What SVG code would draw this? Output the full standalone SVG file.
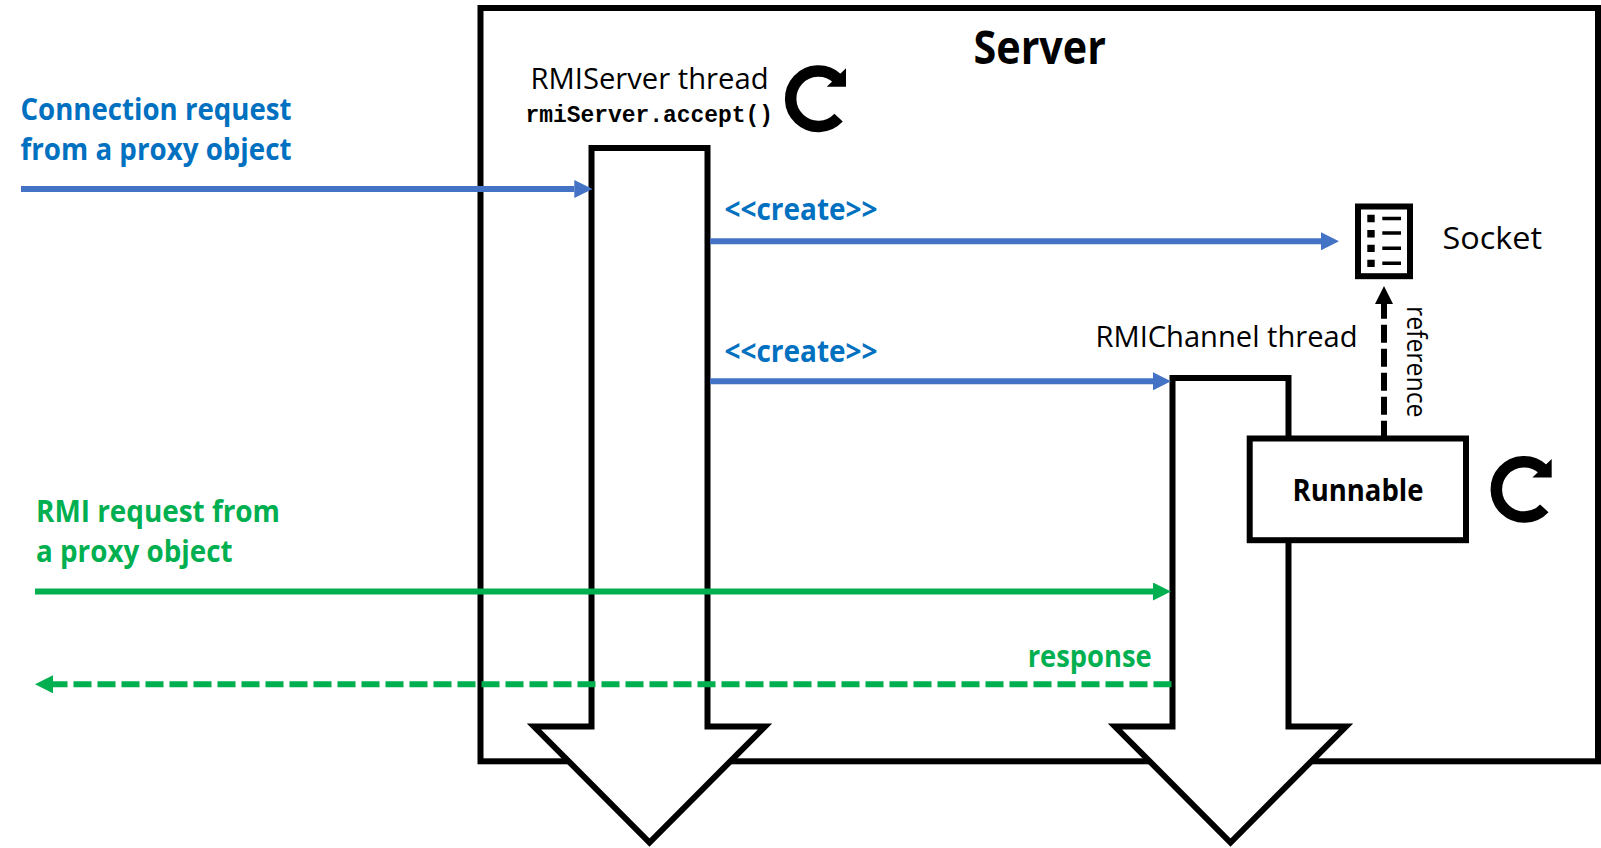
<svg xmlns="http://www.w3.org/2000/svg" xmlns:xlink="http://www.w3.org/1999/xlink" width="1601" height="848" viewBox="0 0 1601 848">
<style>
text{font-family:"Open Sans","Noto Sans","Liberation Sans",sans-serif;font-size:29px;fill:#000;}
.b{font-weight:700;font-size:29.5px;}
.blue{fill:#0070C0;font-weight:700;font-size:29.5px;}
.green{fill:#00B050;font-weight:700;font-size:29.5px;}
.mono{font-family:"Liberation Mono",monospace;font-weight:700;font-size:24px;}
.box{fill:#fff;stroke:#000;stroke-width:6;stroke-miterlimit:10;}
.c{fill:none;stroke-width:6;}
.cb{stroke:#4472C4;}
.cg{stroke:#00B050;}
.ck{stroke:#000;}
.d{stroke-dasharray:18 6;}
</style>
<defs>
<marker id="hb" viewBox="0 0 3 3" markerWidth="3" markerHeight="3" refX="0" refY="1.5" orient="auto"><path d="M0 0L3 1.5L0 3z" fill="#4472C4"/></marker>
<marker id="hg" viewBox="0 0 3 3" markerWidth="3" markerHeight="3" refX="0" refY="1.5" orient="auto"><path d="M0 0L3 1.5L0 3z" fill="#00B050"/></marker>
<marker id="hk" viewBox="0 0 3 3" markerWidth="3" markerHeight="3" refX="0" refY="1.5" orient="auto"><path d="M0 0L3 1.5L0 3z" fill="#000"/></marker>
<g id="loop">
<path d="M838.6 117.6A27.7 27.7 0 1 1 837.2 78.4" fill="none" stroke="#000" stroke-width="11.5"/>
<path d="M846 68.3V86.7H826.7z" fill="#000"/>
</g>
</defs>
<rect width="1601" height="848" fill="#fff"/>
<g id="server">
<rect x="480.5" y="8" width="1117.5" height="753.3" fill="#fff" stroke="#000" stroke-width="6"/>
<text class="b" x="973.5" y="63.5" style="font-size:46px" textLength="132.5" lengthAdjust="spacingAndGlyphs">Server</text>
</g>
<g id="rmiserver-thread">
<path class="box" d="M591.5 148H707.5V726.5H765L649.5 842.5L534 726.5H591.5z"/>
<text x="530.5" y="89.3" textLength="238" lengthAdjust="spacingAndGlyphs">RMIServer thread</text>
<text class="mono" x="525.5" y="122" textLength="247.5" lengthAdjust="spacingAndGlyphs">rmiServer.accept()</text>
<use xlink:href="#loop" href="#loop"/>
</g>
<g id="rmichannel-thread">
<path class="box" d="M1172.5 378H1288.5V726.5H1346L1230.5 842.5L1115 726.5H1172.5z"/>
<text x="1095.5" y="347" textLength="262" lengthAdjust="spacingAndGlyphs">RMIChannel thread</text>
</g>
<g id="runnable">
<rect class="box" x="1249.7" y="438.5" width="216.3" height="101.7"/>
<text class="b" x="1292.5" y="500.5" textLength="131" lengthAdjust="spacingAndGlyphs">Runnable</text>
<use xlink:href="#loop" href="#loop" transform="translate(705.7 390.7)"/>
</g>
<g id="socket">
<rect class="box" x="1358" y="206.5" width="52" height="69.7"/>
<path d="M1367.3 214.7h7.4v7.6h-7.4zM1367.3 230h7.4v7.4h-7.4zM1367.3 244.7h7.4v7.3h-7.4zM1367.3 259.7h7.4v7.3h-7.4z" fill="#000"/>
<path d="M1382.3 218.5h18.7M1382.3 233h18.7M1382.3 248.3h18.7M1382.3 263.3h18.7" stroke="#000" stroke-width="3.5" fill="none"/>
<text x="1442.5" y="248.5" style="font-size:31px" textLength="99.5" lengthAdjust="spacingAndGlyphs">Socket</text>
</g>
<g id="connectors">
<path class="c cb" d="M21 189H574.3" marker-end="url(#hb)"/>
<path class="c cb" d="M710 241.3H1321" marker-end="url(#hb)"/>
<path class="c cb" d="M710 381.3H1153" marker-end="url(#hb)"/>
<path class="c cg" d="M35 591.5H1153" marker-end="url(#hg)"/>
<path class="c cg d" d="M1171.5 684.3H53" marker-end="url(#hg)"/>
<path class="c ck d" d="M1384 438.7V304" marker-end="url(#hk)"/>
</g>
<g id="labels">
<text class="blue" x="20.5" y="120" textLength="271" lengthAdjust="spacingAndGlyphs">Connection request</text>
<text class="blue" x="20.5" y="160" textLength="271" lengthAdjust="spacingAndGlyphs">from a proxy object</text>
<text class="blue" x="724.5" y="220.3" style="font-size:31px" textLength="153" lengthAdjust="spacingAndGlyphs">&lt;&lt;create&gt;&gt;</text>
<text class="blue" x="724.5" y="361.5" style="font-size:31px" textLength="153" lengthAdjust="spacingAndGlyphs">&lt;&lt;create&gt;&gt;</text>
<text class="green" x="36" y="522" textLength="244" lengthAdjust="spacingAndGlyphs">RMI request from</text>
<text class="green" x="36" y="561.7" textLength="196.5" lengthAdjust="spacingAndGlyphs">a proxy object</text>
<text class="green" x="1027.7" y="666.5" textLength="124" lengthAdjust="spacingAndGlyphs">response</text>
<text transform="translate(1406.7 306) rotate(90)" style="font-size:27px" textLength="111.5" lengthAdjust="spacingAndGlyphs">reference</text>
</g>
</svg>
